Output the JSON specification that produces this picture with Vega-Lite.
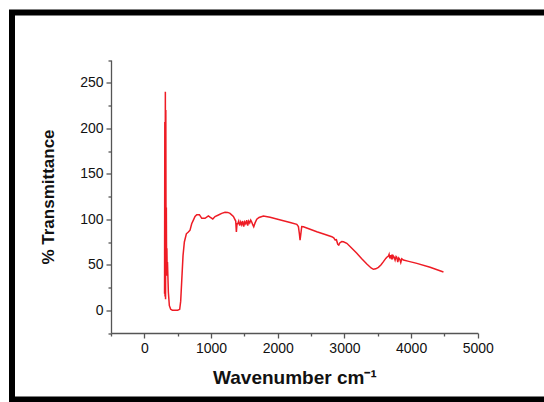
{
  "$schema": "https://vega.github.io/schema/vega-lite/v6.json",
  "autosize": {"type": "none"},
  "padding": {"left": 12, "top": 12.5, "right": -6, "bottom": 2.5},
  "width": 538,
  "height": 387,
  "background": "white",
  "config": {
    "view": {"stroke": "#000000", "strokeWidth": 6, "fill": "white"},
    "font": "Liberation Sans"
  },
  "data": {
    "values": [
      {"wavenumber": 303, "transmittance": 18},
      {"wavenumber": 307, "transmittance": 207},
      {"wavenumber": 310, "transmittance": 15},
      {"wavenumber": 315, "transmittance": 240},
      {"wavenumber": 318, "transmittance": 12},
      {"wavenumber": 322, "transmittance": 220},
      {"wavenumber": 326, "transmittance": 40},
      {"wavenumber": 330, "transmittance": 113},
      {"wavenumber": 334, "transmittance": 38},
      {"wavenumber": 338, "transmittance": 68},
      {"wavenumber": 342, "transmittance": 45},
      {"wavenumber": 347, "transmittance": 53},
      {"wavenumber": 352, "transmittance": 40},
      {"wavenumber": 360, "transmittance": 20},
      {"wavenumber": 375, "transmittance": 5},
      {"wavenumber": 395, "transmittance": 1},
      {"wavenumber": 420, "transmittance": 0},
      {"wavenumber": 500, "transmittance": 0},
      {"wavenumber": 530, "transmittance": 1},
      {"wavenumber": 545, "transmittance": 10},
      {"wavenumber": 561, "transmittance": 33},
      {"wavenumber": 580, "transmittance": 60},
      {"wavenumber": 600, "transmittance": 75},
      {"wavenumber": 610, "transmittance": 78},
      {"wavenumber": 630, "transmittance": 84},
      {"wavenumber": 660, "transmittance": 86},
      {"wavenumber": 685, "transmittance": 88},
      {"wavenumber": 710, "transmittance": 95},
      {"wavenumber": 735, "transmittance": 99},
      {"wavenumber": 760, "transmittance": 103},
      {"wavenumber": 786, "transmittance": 105},
      {"wavenumber": 825, "transmittance": 105},
      {"wavenumber": 861, "transmittance": 101},
      {"wavenumber": 885, "transmittance": 101},
      {"wavenumber": 910, "transmittance": 101},
      {"wavenumber": 960, "transmittance": 103.6},
      {"wavenumber": 990, "transmittance": 102},
      {"wavenumber": 1026, "transmittance": 100.3},
      {"wavenumber": 1060, "transmittance": 103},
      {"wavenumber": 1110, "transmittance": 104.7},
      {"wavenumber": 1160, "transmittance": 106.5},
      {"wavenumber": 1210, "transmittance": 107.6},
      {"wavenumber": 1250, "transmittance": 107.5},
      {"wavenumber": 1285, "transmittance": 106.5},
      {"wavenumber": 1335, "transmittance": 103},
      {"wavenumber": 1370, "transmittance": 98},
      {"wavenumber": 1380, "transmittance": 86},
      {"wavenumber": 1390, "transmittance": 95},
      {"wavenumber": 1400, "transmittance": 95},
      {"wavenumber": 1415, "transmittance": 98},
      {"wavenumber": 1430, "transmittance": 93},
      {"wavenumber": 1445, "transmittance": 97},
      {"wavenumber": 1460, "transmittance": 94},
      {"wavenumber": 1475, "transmittance": 98},
      {"wavenumber": 1490, "transmittance": 92},
      {"wavenumber": 1505, "transmittance": 97},
      {"wavenumber": 1520, "transmittance": 95},
      {"wavenumber": 1535, "transmittance": 99},
      {"wavenumber": 1550, "transmittance": 93},
      {"wavenumber": 1565, "transmittance": 98},
      {"wavenumber": 1580, "transmittance": 96},
      {"wavenumber": 1595, "transmittance": 99},
      {"wavenumber": 1610, "transmittance": 97},
      {"wavenumber": 1625, "transmittance": 94},
      {"wavenumber": 1640, "transmittance": 91.8},
      {"wavenumber": 1660, "transmittance": 96},
      {"wavenumber": 1686, "transmittance": 100},
      {"wavenumber": 1720, "transmittance": 102},
      {"wavenumber": 1785, "transmittance": 103.6},
      {"wavenumber": 1885, "transmittance": 102.1},
      {"wavenumber": 1985, "transmittance": 100.3},
      {"wavenumber": 2085, "transmittance": 98.4},
      {"wavenumber": 2186, "transmittance": 96.4},
      {"wavenumber": 2286, "transmittance": 94.4},
      {"wavenumber": 2310, "transmittance": 92},
      {"wavenumber": 2325, "transmittance": 84},
      {"wavenumber": 2335, "transmittance": 77},
      {"wavenumber": 2345, "transmittance": 83},
      {"wavenumber": 2360, "transmittance": 92},
      {"wavenumber": 2385, "transmittance": 91.8},
      {"wavenumber": 2486, "transmittance": 89},
      {"wavenumber": 2586, "transmittance": 86.3},
      {"wavenumber": 2700, "transmittance": 83.5},
      {"wavenumber": 2811, "transmittance": 80.8},
      {"wavenumber": 2840, "transmittance": 79.5},
      {"wavenumber": 2860, "transmittance": 77.2},
      {"wavenumber": 2880, "transmittance": 77.5},
      {"wavenumber": 2900, "transmittance": 72.5},
      {"wavenumber": 2915, "transmittance": 71.7},
      {"wavenumber": 2930, "transmittance": 74},
      {"wavenumber": 2960, "transmittance": 75.5},
      {"wavenumber": 2985, "transmittance": 75.3},
      {"wavenumber": 3036, "transmittance": 73.6},
      {"wavenumber": 3100, "transmittance": 69},
      {"wavenumber": 3186, "transmittance": 62.6},
      {"wavenumber": 3260, "transmittance": 56.5},
      {"wavenumber": 3336, "transmittance": 50.8},
      {"wavenumber": 3400, "transmittance": 46.5},
      {"wavenumber": 3435, "transmittance": 45},
      {"wavenumber": 3470, "transmittance": 45.5},
      {"wavenumber": 3510, "transmittance": 47.2},
      {"wavenumber": 3550, "transmittance": 50},
      {"wavenumber": 3585, "transmittance": 53.4},
      {"wavenumber": 3620, "transmittance": 57},
      {"wavenumber": 3640, "transmittance": 58.5},
      {"wavenumber": 3660, "transmittance": 59.6},
      {"wavenumber": 3670, "transmittance": 61.5},
      {"wavenumber": 3680, "transmittance": 57},
      {"wavenumber": 3690, "transmittance": 60.5},
      {"wavenumber": 3700, "transmittance": 58},
      {"wavenumber": 3710, "transmittance": 61},
      {"wavenumber": 3720, "transmittance": 56},
      {"wavenumber": 3730, "transmittance": 60},
      {"wavenumber": 3745, "transmittance": 58.5},
      {"wavenumber": 3760, "transmittance": 55},
      {"wavenumber": 3775, "transmittance": 59},
      {"wavenumber": 3786, "transmittance": 58.2},
      {"wavenumber": 3800, "transmittance": 53},
      {"wavenumber": 3815, "transmittance": 57.5},
      {"wavenumber": 3830, "transmittance": 56},
      {"wavenumber": 3845, "transmittance": 52.5},
      {"wavenumber": 3860, "transmittance": 56.5},
      {"wavenumber": 3885, "transmittance": 55.2},
      {"wavenumber": 3950, "transmittance": 54},
      {"wavenumber": 4086, "transmittance": 51.5},
      {"wavenumber": 4285, "transmittance": 47.2},
      {"wavenumber": 4485, "transmittance": 42}
    ]
  },
  "mark": {"type": "line", "color": "#ee1c25", "strokeWidth": 1.5, "clip": false},
  "encoding": {
    "x": {
      "field": "wavenumber",
      "type": "quantitative",
      "scale": {"domain": [-500, 5000], "range": [99, 465.8], "nice": false, "zero": false},
      "axis": {
        "values": [-500, 0, 500, 1000, 1500, 2000, 2500, 3000, 3500, 4000, 4500, 5000],
        "format": "d",
        "labelExpr": "datum.value % 1000 === 0 ? datum.label : ''",
        "offset": -66.5,
        "grid": false,
        "domainColor": "#555555",
        "domainWidth": 1.3,
        "tickColor": "#555555",
        "tickWidth": 1.3,
        "tickSize": {"condition": {"test": "datum.value % 1000 === 0", "value": 5}, "value": 3},
        "labelFont": "Liberation Sans",
        "labelFontSize": 14,
        "labelColor": "#111111",
        "labelPadding": 3,
        "labelFlush": false,
        "labelOverlap": false,
        "title": "Wavenumber cm⁻¹",
        "titleFont": "Liberation Sans",
        "titleFontSize": 19,
        "titleFontWeight": "bold",
        "titleColor": "#111111",
        "titlePadding": 13
      }
    },
    "y": {
      "field": "transmittance",
      "type": "quantitative",
      "scale": {"domain": [-25, 275], "range": [320.5, 47.5], "nice": false, "zero": false},
      "axis": {
        "values": [-25, 0, 25, 50, 75, 100, 125, 150, 175, 200, 225, 250, 275],
        "format": "d",
        "labelExpr": "datum.value >= 0 && datum.value <= 250 && datum.value % 50 === 0 ? datum.label : ''",
        "offset": -99,
        "grid": false,
        "domainColor": "#555555",
        "domainWidth": 1.3,
        "tickColor": "#555555",
        "tickWidth": 1.3,
        "tickSize": {"condition": {"test": "datum.value % 50 === 0", "value": 5}, "value": 3},
        "labelFont": "Liberation Sans",
        "labelFontSize": 14,
        "labelColor": "#111111",
        "labelPadding": 3,
        "labelFlush": false,
        "labelOverlap": false,
        "title": "% Transmittance",
        "titleFont": "Liberation Sans",
        "titleFontSize": 17,
        "titleFontWeight": "bold",
        "titleColor": "#111111",
        "titlePadding": 22
      }
    }
  }
}
